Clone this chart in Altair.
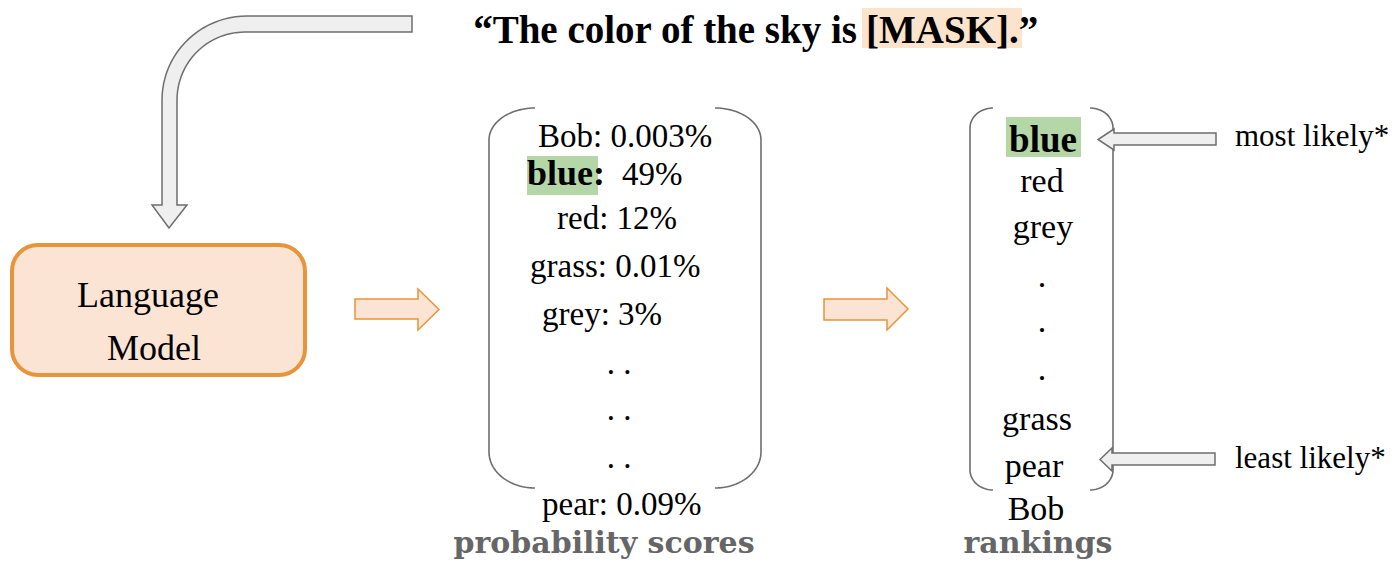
import altair as alt
import numpy as np
import pandas as pd

# ---------------- text content ----------------
title_left = "\u201cThe color of the sky is"
title_mask = "[MASK].\u201d"
model_lines = ["Language", "Model"]
prob_words = ["Bob: 0.003%", "red: 12%", "grass: 0.01%", "grey: 3%", "pear: 0.09%"]
top_word = "blue:"
top_score = "49%"
prob_dots = [". .", ". .", ". ."]
rank_top = "blue"
rank_words = ["red", "grey", ".", ".", ".", "grass", "pear", "Bob"]
hint_labels = ["most likely*", "least likely*"]
section_labels = ["probability scores", "rankings"]

# ---------------- layout (reference pixel coordinates) ----------------
X0, X1, Y0, Y1 = 8, 1391, 8, 561
W, H = X1 - X0, Y1 - Y0
FONT = "Liberation Serif"
LABEL_FONT = "DejaVu Serif"
ORANGE = "#E8943A"
PEACH = "#FCE4D4"
GREEN = "#B5D7A8"
GREY_FILL = "#EFEFEF"
GREY_LINE = "#6E6E6E"
LABEL_GREY = "#666666"

prob_pos = [(538, 147), (557, 229), (530, 277), (542, 325), (542, 515)]
prob_dot_pos = [(619, 374), (619, 420), (619, 468)]
rank_pos = [(1042, 192), (1043, 238), (1042, 287), (1042, 332), (1042, 380),
            (1037, 430), (1034, 477), (1036, 520)]
hint_pos = [(1235, 146), (1235, 468)]
section_pos = [(604, 553), (1038, 553)]

X = lambda f="x": alt.X(f"{f}:Q", scale=alt.Scale(domain=[X0, X1], nice=False, zero=False), axis=None)
Y = lambda f="y": alt.Y(f"{f}:Q", scale=alt.Scale(domain=[Y0, Y1], reverse=True, nice=False, zero=False), axis=None)


def text_layer(labels, pos, size, weight="normal", color="black", align="left", font=FONT):
    df = pd.DataFrame({"label": labels, "x": [p[0] for p in pos], "y": [p[1] for p in pos]})
    return alt.Chart(df).mark_text(font=font, fontSize=size, fontWeight=weight, color=color,
                                   align=align, baseline="alphabetic").encode(
        x=X(), y=Y(), text="label:N")


def rect_layer(boxes, **kw):
    df = pd.DataFrame(boxes, columns=["x", "x2", "y", "y2"])
    return alt.Chart(df).mark_rect(**kw).encode(x=X(), x2="x2:Q", y=Y(), y2="y2:Q")


def arc(cx, cy, rx, ry, a0, a1, n=24):
    t = np.linspace(a0, a1, n)
    return list(zip(cx + rx * np.cos(t), cy + ry * np.sin(t)))


def bracket_paths(left, right, top, bottom, rx, ry_top, ry_bot):
    pi = np.pi
    lp = arc(left + rx, top + ry_top, rx, ry_top, 1.5 * pi, pi) + \
        arc(left + rx, bottom - ry_bot, rx, ry_bot, pi, 0.5 * pi)
    rp = arc(right - rx, top + ry_top, rx, ry_top, 1.5 * pi, 2 * pi) + \
        arc(right - rx, bottom - ry_bot, rx, ry_bot, 0, 0.5 * pi)
    return [lp, rp]


rows = []
for i, path in enumerate(bracket_paths(489, 761, 108, 488, 46, 32, 36) +
                         bracket_paths(970, 1113, 108, 490, 23, 20, 20)):
    for j, (px, py) in enumerate(path):
        rows.append({"pid": i, "o": j, "x": px, "y": py})
brackets = alt.Chart(pd.DataFrame(rows)).mark_line(color=GREY_LINE, strokeWidth=1.6).encode(
    x=X(), y=Y(), detail="pid:N", order="o:Q")


def feature(pts):
    pts = [list(map(float, p)) for p in pts]
    return {"type": "Feature", "properties": {},
            "geometry": {"type": "Polygon", "coordinates": [pts + [pts[0]]]}}


def h_arrow(x_tail, xb, xt, y0, y1, hy0, hy1):
    yc = (hy0 + hy1) / 2
    return [(x_tail, y0), (xb, y0), (xb, hy0), (xt, yc), (xb, hy1), (xb, y1), (x_tail, y1)]


pi = np.pi
curved = [(412, 16)] + arc(247, 100, 85, 84, 1.5 * pi, pi) + \
    [(162, 205), (152, 205), (169, 228), (187, 205), (177, 205)] + \
    arc(245, 100, 68, 68, pi, 1.5 * pi) + [(412, 32)]

grey_arrows = [feature(curved),
               feature(h_arrow(1216, 1114, 1098, 133, 145, 129, 150)),
               feature(h_arrow(1215, 1112, 1100, 453, 465, 448, 471))]
orange_arrows = [feature(h_arrow(355, 418, 439, 299, 319, 289, 330)),
                 feature(h_arrow(824, 887, 908, 299, 320, 288, 330))]

proj = dict(type="identity", reflectY=False, scale=1, translate=[-X0, -Y0])
grey_shapes = alt.Chart(alt.Data(values=grey_arrows)).mark_geoshape(
    fill=GREY_FILL, stroke=GREY_LINE, strokeWidth=1.5).project(**proj)
orange_shapes = alt.Chart(alt.Data(values=orange_arrows)).mark_geoshape(
    fill=PEACH, stroke=ORANGE, strokeWidth=1.5).project(**proj)

layers = [
    rect_layer([(862, 1022, 8, 48)], color="#FCE4CC"),
    rect_layer([(527, 598, 156, 195), (1006, 1081, 117, 157)], color=GREEN),
    rect_layer([(12, 305, 245, 375)], fill=PEACH, stroke=ORANGE, strokeWidth=4, cornerRadius=26),
    text_layer([title_left], [(857, 43)], 39, "bold", align="right"),
    text_layer([title_mask], [(866, 43)], 39, "bold"),
    text_layer(model_lines, [(148, 307), (154, 360)], 36, align="center"),
    text_layer(prob_words, prob_pos, 33),
    text_layer([top_word], [(527, 185)], 36, "bold"),
    text_layer([top_score], [(622, 185)], 33),
    text_layer(prob_dots, prob_dot_pos, 33, align="center"),
    text_layer([rank_top], [(1043, 152)], 37, "bold", align="center"),
    text_layer(rank_words, rank_pos, 34, align="center"),
    text_layer(hint_labels, hint_pos, 31),
    text_layer(section_labels, section_pos, 30, "bold", color=LABEL_GREY, align="center",
               font=LABEL_FONT),
    brackets,
    orange_shapes,
    grey_shapes,
]

chart = alt.layer(*layers).properties(
    width=W, height=H, padding=0, autosize=alt.AutoSizeParams(type="none")
).configure_view(stroke=None)

chart.save("out.html", embed_options={"renderer": "svg", "actions": False})
